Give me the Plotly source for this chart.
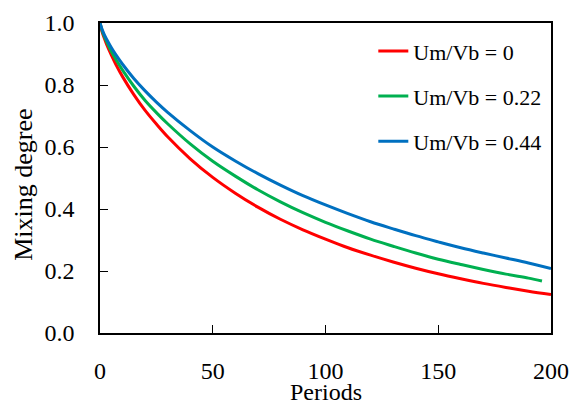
import plotly.graph_objects as go

periods = [0, 1, 2, 3, 5, 7, 10, 15, 20, 25, 30, 40, 50, 60, 70, 80, 90, 100,
           110, 120, 130, 140, 150, 160, 170, 180, 190, 200]
periods_green = periods[:-1] + [196]

mix_0 = [1.0, 0.970, 0.949, 0.930, 0.897, 0.867, 0.827, 0.769, 0.718, 0.674, 0.633,
         0.562, 0.502, 0.451, 0.406, 0.367, 0.333, 0.303, 0.275, 0.251, 0.229,
         0.209, 0.191, 0.175, 0.160, 0.147, 0.135, 0.124]
mix_022 = [1.0, 0.974, 0.955, 0.939, 0.909, 0.883, 0.848, 0.796, 0.750, 0.711, 0.675,
           0.610, 0.554, 0.506, 0.462, 0.423, 0.388, 0.357, 0.329, 0.303, 0.280,
           0.258, 0.238, 0.221, 0.205, 0.190, 0.177, 0.168]
mix_044 = [1.0, 0.978, 0.961, 0.947, 0.921, 0.898, 0.867, 0.821, 0.781, 0.745, 0.712,
           0.653, 0.600, 0.555, 0.514, 0.477, 0.443, 0.413, 0.385, 0.359, 0.336,
           0.314, 0.294, 0.275, 0.258, 0.242, 0.226, 0.208]

names = ["Um/Vb = 0", "Um/Vb = 0.22", "Um/Vb = 0.44"]
colors = ["#FF0000", "#00B050", "#0070C0"]
x_title = "Periods"
y_title = "Mixing degree"

font_family = "Liberation Serif"

fig = go.Figure()
series = [(periods, mix_0), (periods_green, mix_022), (periods, mix_044)]
for i, ((xs, ys), name, color) in enumerate(zip(series, names, colors)):
    fig.add_trace(go.Scatter(x=xs, y=ys, mode="lines", name=name,
                             legendgroup=f"g{i}",
                             line=dict(color=color, width=3, shape="spline")))

fig.update_layout(
    width=569, height=407,
    margin=dict(l=100, r=18, t=23, b=74),
    paper_bgcolor="white", plot_bgcolor="white",
    font=dict(family=font_family, size=24, color="black"),
    showlegend=True,
    legend=dict(x=0.606, y=0.977, xanchor="left", yanchor="top",
                font=dict(family=font_family, size=22, color="black"),
                tracegroupgap=13.5, bgcolor="rgba(0,0,0,0)"),
    xaxis=dict(range=[0, 200], tick0=0, dtick=50, showgrid=False, zeroline=False,
               showline=True, linecolor="black", linewidth=1.5, mirror=True,
               ticks="inside", ticklen=8, tickwidth=1, tickcolor="black",
               ticklabelstandoff=15, automargin=False),
    yaxis=dict(range=[0, 1], tick0=0, dtick=0.2, tickformat=".1f", showgrid=False,
               zeroline=False, showline=True, linecolor="black", linewidth=1.5,
               mirror=True, ticks="inside", ticklen=8, tickwidth=1, tickcolor="black",
               ticklabelstandoff=19, automargin=False),
    annotations=[
        dict(text=x_title, xref="paper", yref="paper", x=0.501, y=-0.2387,
             xanchor="center", yanchor="bottom", showarrow=False,
             font=dict(family=font_family, size=24, color="black")),
        dict(text=y_title, xref="paper", yref="paper", x=-0.1685, y=0.478,
             xanchor="center", yanchor="middle", showarrow=False, textangle=-90,
             font=dict(family=font_family, size=26, color="black")),
    ],
)

fig.write_html(
    "out.html",
    config={"displayModeBar": False},
    post_script="document.body.style.margin='0';document.body.style.overflow='hidden';",
)
